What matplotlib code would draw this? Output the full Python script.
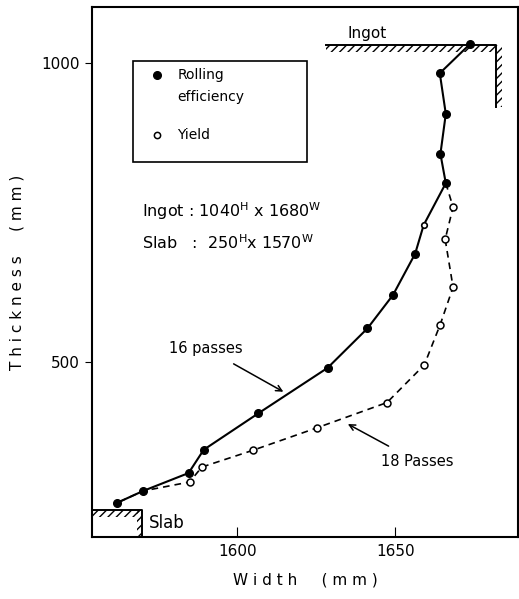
import matplotlib.pyplot as plt
from matplotlib.patches import Rectangle

# rolling efficiency (16 passes), filled markers
roll_w = [1673.7, 1664.1, 1666.0, 1664.3, 1666.0, 1659.0, 1656.3, 1649.3, 1641.2,
          1628.6, 1606.7, 1589.4, 1584.6, 1570.2, 1561.9]
roll_t = [1032, 983, 915, 848, 799, 729, 681, 612, 556, 490, 414, 353, 314, 284, 264]

# yield (18 passes), open markers; first and last two points are shared with rolling
yield_w = [1666.0, 1668.3, 1665.8, 1668.3, 1664.2, 1659.2, 1647.4, 1625.4, 1604.9,
           1588.8, 1584.9, 1570.2, 1561.9]
yield_t = [799, 759, 705, 625, 562, 495, 432, 390, 352, 324, 299, 284, 264]

ingot_w, ingot_t = 1682, 1030
slab_w, slab_t = 1570, 252

plt.rcParams["font.family"] = "DejaVu Sans"
plt.rcParams["hatch.linewidth"] = 1.0
fig = plt.figure(figsize=(5.19, 5.99), dpi=100)
ax = fig.add_axes([0.177, 0.1035, 0.822, 0.885])
ax.set_xlim(1554, 1689)
ax.set_ylim(207, 1094)

roll_mark = [i for i in range(len(roll_w)) if i != 5]
ax.plot(roll_w, roll_t, "-", color="black", lw=1.5, marker="o", ms=5.5,
        mfc="black", markevery=roll_mark)
ax.plot(roll_w[5], roll_t[5], "o", ms=4, mfc="white", mec="black", mew=1.2)
ax.plot(yield_w, yield_t, "--", color="black", lw=1.2, dashes=(4, 3),
        marker="o", ms=5, mfc="white", mec="black", mew=1.1,
        markevery=list(range(1, len(yield_w) - 2)))

# ingot hatch
ax.plot([1628, ingot_w, ingot_w], [ingot_t, ingot_t, 926], color="black", lw=1.4)
ax.add_patch(Rectangle((1628, ingot_t - 12), ingot_w - 1628, 12, hatch="////",
                       fill=False, lw=0))
ax.add_patch(Rectangle((ingot_w, 926), 1.7, ingot_t - 926, hatch="////",
                       fill=False, lw=0))
ax.text(1641, 1050, "Ingot", fontsize=11, ha="center", va="center")

# slab hatch
ax.plot([1554, slab_w, slab_w], [slab_t, slab_t, 207], color="black", lw=1.4)
ax.add_patch(Rectangle((1554, slab_t - 12), slab_w - 1554, 12, hatch="////",
                       fill=False, lw=0))
ax.add_patch(Rectangle((slab_w - 1.7, 207), 1.7, slab_t - 207, hatch="////",
                       fill=False, lw=0))
ax.text(1572, 231, "Slab", fontsize=12, ha="left", va="center")

# legend box
ax.add_patch(Rectangle((1567, 835), 55, 168, fill=False, lw=1.2))
ax.plot(1574.5, 980, "o", color="black", ms=5.5)
ax.text(1581, 980, "Rolling", fontsize=10, va="center")
ax.text(1581, 943, "efficiency", fontsize=10, va="center")
ax.plot(1574.5, 880, "o", ms=4.5, mfc="white", mec="black", mew=1.1)
ax.text(1581, 880, "Yield", fontsize=10, va="center")

ax.text(1570, 752, r"Ingot : 1040$^\mathrm{H}$ x 1680$^\mathrm{W}$", fontsize=11.5,
        va="center")
ax.text(1570, 700, r"Slab   :  250$^\mathrm{H}$x 1570$^\mathrm{W}$", fontsize=11.5,
        va="center")

ax.annotate("16 passes", xy=(1614.6, 450), xytext=(1590, 523), fontsize=10.5,
            ha="center", va="center",
            arrowprops=dict(arrowstyle="->", color="black", lw=1.1,
                            shrinkA=8, shrinkB=0))
ax.annotate("18 Passes", xy=(1635, 396), xytext=(1657, 333), fontsize=10.5,
            ha="center", va="center",
            arrowprops=dict(arrowstyle="->", color="black", lw=1.1,
                            shrinkA=8, shrinkB=0))

ax.set_xticks([1600, 1650])
ax.set_yticks([500, 1000])
ax.tick_params(axis="x", direction="in", length=7, labelsize=11, pad=5)
ax.tick_params(axis="y", direction="out", length=5, labelsize=11)
for s in ax.spines.values():
    s.set_linewidth(1.5)
ax.set_xlabel("W i d t h     ( m m )", fontsize=11, labelpad=10)
ax.set_ylabel("T h i c k n e s s     ( m m )", fontsize=11, labelpad=12)

fig.savefig("out.png", dpi=100)
